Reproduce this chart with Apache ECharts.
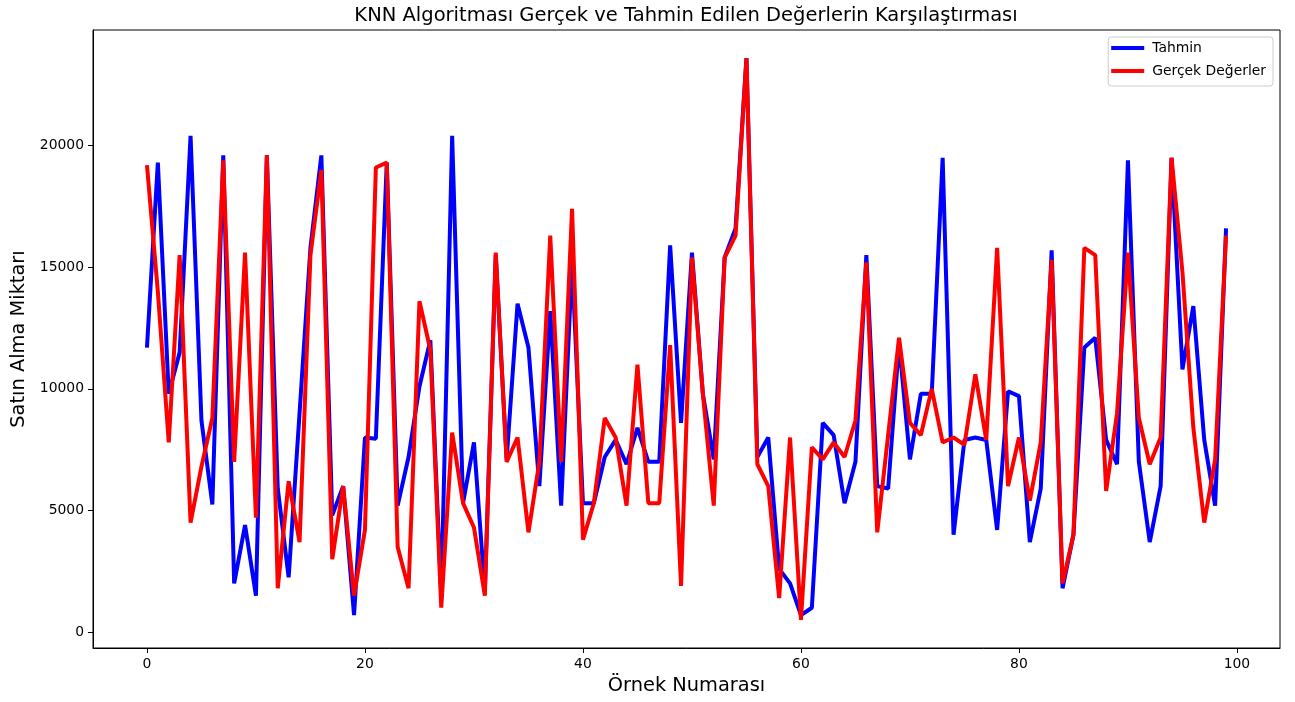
<!DOCTYPE html>
<html>
<head>
<meta charset="utf-8">
<script src="https://cdn.jsdelivr.net/npm/echarts@6/dist/echarts.min.js"></script>
<style>
html,body{margin:0;padding:0;background:#fff;}
#chart{width:1295px;height:702px;}
</style>
</head>
<body>
<div id="chart"></div>
<script>
// Sample numbers (x categories)
const sampleCount = 100;
const xTicks = [0, 20, 40, 60, 80, 100];
const yTicks = [0, 5000, 10000, 15000, 20000];

// Predicted values (Tahmin)
const tahmin = [
  11700, 19300, 9800, 11500, 20400, 8700, 5250, 19600, 2000, 4400,
  1500, 19600, 5900, 2250, 9000, 15800, 19600, 4800, 6000, 700,
  8000, 7950, 19300, 5200, 7200, 10100, 12000, 1500, 20400, 5300,
  7800, 1700, 15500, 7100, 13500, 11700, 6000, 13200, 5200, 15200,
  5300, 5300, 7200, 7900, 6900, 8400, 7000, 7000, 15900, 8600,
  15600, 9800, 7100, 15400, 16600, 23600, 7200, 8000, 2600, 2000,
  700, 1000, 8600, 8100, 5300, 7000, 15500, 6000, 5900, 11900,
  7100, 9800, 9800, 19500, 4000, 7900, 8000, 7900, 4200, 9900,
  9700, 3700, 5900, 15700, 1800, 4000, 11700, 12100, 7900, 6900,
  19400, 7000, 3700, 6000, 19500, 10800, 13400, 7900, 5200, 16600
];

// Actual values (Gerçek Değerler)
const gercek = [
  19200, 14000, 7800, 15500, 4500, 6800, 8800, 19400, 7000, 15600,
  4700, 19600, 1800, 6200, 3700, 15500, 19000, 3000, 6000, 1500,
  4200, 19100, 19300, 3500, 1800, 13600, 11600, 1000, 8200, 5300,
  4300, 1500, 15600, 7000, 8000, 4100, 7000, 16300, 7000, 17400,
  3800, 5300, 8800, 8000, 5200, 11000, 5300, 5300, 11800, 1900,
  15400, 9800, 5200, 15400, 16300, 23600, 6900, 6000, 1400, 8000,
  500, 7600, 7100, 7800, 7200, 8700, 15200, 4100, 8100, 12100,
  8600, 8100, 10000, 7800, 8000, 7700, 10600, 7900, 15800, 6000,
  8000, 5400, 7800, 15300, 2000, 4000, 15800, 15500, 5800, 9000,
  15600, 8800, 6900, 8000, 19500, 14800, 8400, 4500, 7100, 16300
];

const idx = [];
for (let i = 0; i < sampleCount; i++) idx.push(i);
const toPairs = arr => arr.map((v, i) => [idx[i], v]);

const chart = echarts.init(document.getElementById('chart'), null, {renderer: 'canvas'});
const font = 'DejaVu Sans';
chart.setOption({
  animation: false,
  backgroundColor: '#fff',
  textStyle: {fontFamily: font},
  graphic: [{
    type: 'text', x: 686, y: 16,
    style: {
      text: 'KNN Algoritması Gerçek ve Tahmin Edilen Değerlerin Karşılaştırması',
      font: '19.5px "DejaVu Sans"', fill: '#000', align: 'center', verticalAlign: 'middle'
    }
  }],
  grid: {
    left: 93, right: 15, top: 30, bottom: 54,
    show: true, borderColor: '#000', borderWidth: 1, backgroundColor: 'transparent'
  },
  legend: {
    orient: 'vertical', right: 22, top: 37,
    data: ['Tahmin', 'Gerçek Değerler'],
    icon: 'rect', itemWidth: 33, itemHeight: 4, itemGap: 7,
    padding: [3, 7, 7, 3],
    borderColor: '#cccccc', borderWidth: 1, borderRadius: 3,
    backgroundColor: 'rgba(255,255,255,0.8)',
    textStyle: {fontFamily: font, fontSize: 13.9, lineHeight: 16, color: '#000', padding: [0, 0, 0, 3]}
  },
  xAxis: {
    type: 'value', min: -4.95, max: 103.95, splitNumber: 5,
    name: 'Örnek Numarası', nameLocation: 'middle', nameGap: 28,
    nameTextStyle: {fontFamily: font, fontSize: 19.4, color: '#000'},
    axisLine: {show: true, onZero: false, lineStyle: {color: '#000', width: 1}},
    axisTick: {show: true, inside: false, length: 5, customValues: xTicks, lineStyle: {color: '#000'}},
    axisLabel: {
      fontFamily: font, fontSize: 13.9, color: '#000', margin: 9, customValues: xTicks,
      formatter: v => (xTicks.indexOf(v) >= 0 ? String(v) : '')
    },
    splitLine: {show: false}
  },
  yAxis: {
    type: 'value', min: -655, max: 24755, splitNumber: 5,
    name: 'Satın Alma Miktarı', nameLocation: 'middle', nameGap: 57,
    nameTextStyle: {fontFamily: font, fontSize: 19.4, color: '#000'},
    axisLine: {show: true, onZero: false, lineStyle: {color: '#000', width: 1}},
    axisTick: {show: true, inside: false, length: 5, customValues: yTicks, lineStyle: {color: '#000'}},
    axisLabel: {
      fontFamily: font, fontSize: 13.9, color: '#000', margin: 9, customValues: yTicks,
      formatter: v => (yTicks.indexOf(v) >= 0 ? String(v) : '')
    },
    splitLine: {show: false}
  },
  series: [
    {
      name: 'Tahmin', type: 'line', data: toPairs(tahmin),
      showSymbol: false, symbol: 'none',
      lineStyle: {color: '#0000ff', width: 4}, itemStyle: {color: '#0000ff'}
    },
    {
      name: 'Gerçek Değerler', type: 'line', data: toPairs(gercek),
      showSymbol: false, symbol: 'none',
      lineStyle: {color: '#ff0000', width: 4}, itemStyle: {color: '#ff0000'}
    }
  ]
});
</script>
</body>
</html>
